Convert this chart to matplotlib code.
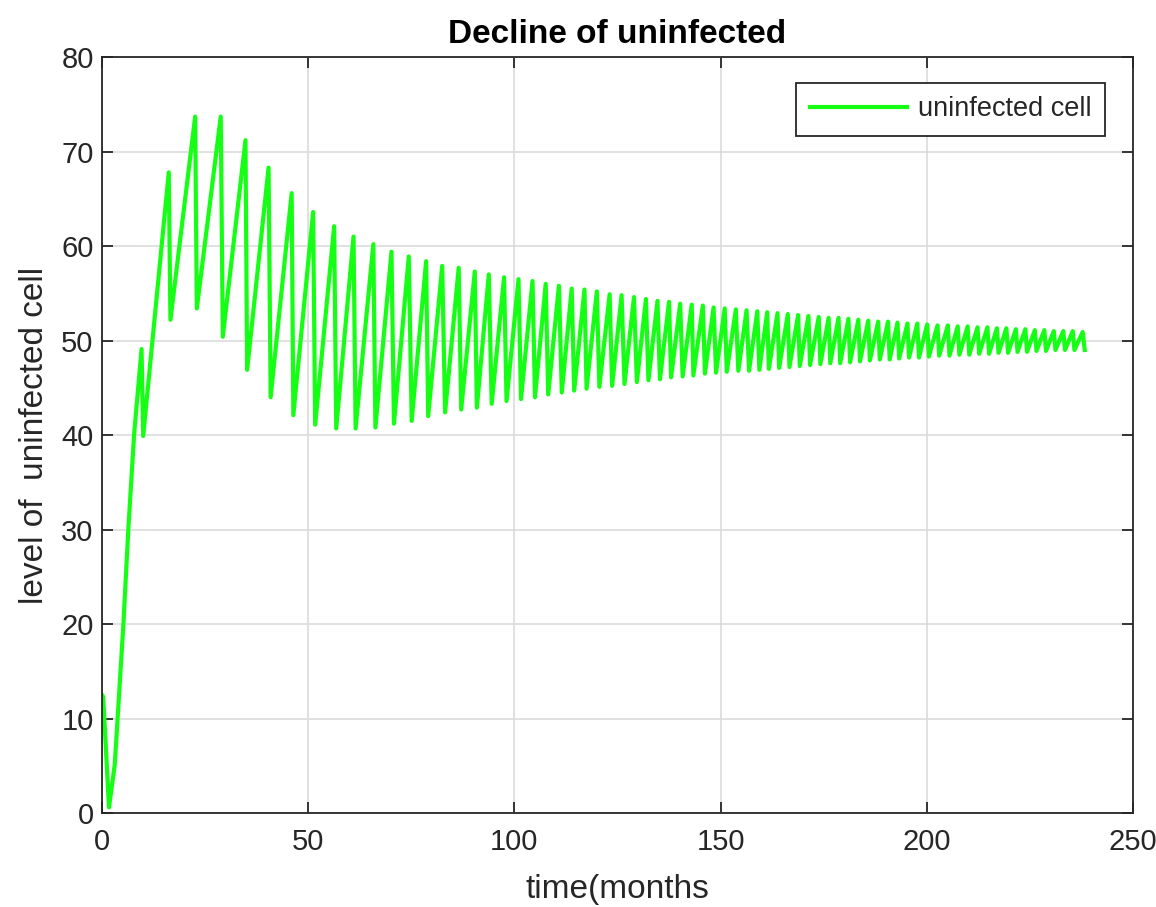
import numpy as np
import matplotlib.pyplot as plt

plt.rcParams['font.family'] = ['Liberation Sans', 'DejaVu Sans']

# start-up phase (t in months, level)
start_t = [0.0, 0.3, 1.7, 3.1, 5.2, 6.4, 7.8]
start_v = [12.5, 12.3, 0.6, 5.1, 20.0, 30.1, 40.1]

# tops of the saw teeth
peak_t = [9.6, 16.2, 22.6, 28.8, 34.8, 40.4, 46.0, 51.2, 56.3, 61.0,
          65.8, 70.2, 74.4, 78.6, 82.5, 86.5, 90.4, 93.8, 97.5, 101.0,
          104.4, 107.6, 110.8, 113.9, 117.0, 120.0, 123.1, 126.0, 129.0, 131.9,
          134.7, 137.5, 140.2, 143.0, 145.7, 148.3, 151.0, 153.7, 156.3, 158.9,
          161.3, 163.8, 166.3, 168.8, 171.3, 173.8, 176.2, 178.6, 181.0, 183.4,
          185.8, 188.2, 190.6, 192.9, 195.3, 197.7, 200.1, 202.6, 205.1, 207.5,
          209.9, 212.3, 214.7, 217.0, 219.3, 221.6, 223.9, 226.2, 228.5, 230.8,
          233.1, 235.4, 237.8]
peak_v = [49.1, 67.8, 73.7, 73.7, 71.2, 68.3, 65.6, 63.6, 62.1, 61.0,
          60.2, 59.4, 58.9, 58.4, 57.9, 57.7, 57.3, 57.0, 56.7, 56.5,
          56.3, 56.0, 55.8, 55.5, 55.4, 55.2, 54.9, 54.8, 54.6, 54.4,
          54.2, 54.1, 53.9, 53.8, 53.7, 53.5, 53.4, 53.3, 53.2, 53.1,
          53.0, 52.9, 52.8, 52.7, 52.6, 52.5, 52.4, 52.4, 52.3, 52.2,
          52.1, 52.0, 52.0, 51.9, 51.8, 51.8, 51.7, 51.6, 51.6, 51.5,
          51.5, 51.4, 51.4, 51.3, 51.3, 51.2, 51.2, 51.1, 51.1, 51.0,
          51.0, 51.0, 50.9]

# bottoms of the saw teeth
trough_t = [10.0, 16.6, 23.0, 29.3, 35.2, 40.9, 46.4, 51.7, 56.8, 61.5,
            66.3, 70.8, 75.1, 79.1, 83.2, 87.1, 90.9, 94.5, 98.1, 101.6,
            105.0, 108.2, 111.5, 114.5, 117.5, 120.6, 123.7, 126.7, 129.7, 132.5,
            135.3, 138.0, 140.8, 143.4, 146.2, 148.9, 151.5, 154.3, 156.9, 159.4,
            161.7, 164.2, 166.7, 169.2, 171.7, 174.2, 176.6, 179.0, 181.4, 183.8,
            186.2, 188.6, 191.0, 193.3, 195.7, 198.1, 200.5, 203.0, 205.5, 207.9,
            210.3, 212.7, 215.1, 217.4, 219.7, 222.0, 224.3, 226.6, 228.9, 231.2,
            233.5, 235.8, 238.3]
trough_v = [39.9, 52.2, 53.4, 50.4, 46.9, 44.0, 42.1, 41.1, 40.7, 40.7,
            40.8, 41.2, 41.5, 42.0, 42.4, 42.7, 42.9, 43.3, 43.6, 43.8,
            44.0, 44.3, 44.5, 44.7, 44.9, 45.1, 45.2, 45.4, 45.6, 45.8,
            45.9, 46.1, 46.2, 46.3, 46.5, 46.6, 46.7, 46.8, 46.8, 46.9,
            47.0, 47.1, 47.2, 47.3, 47.4, 47.5, 47.6, 47.6, 47.7, 47.8,
            47.9, 48.0, 48.0, 48.1, 48.2, 48.2, 48.3, 48.4, 48.4, 48.5,
            48.5, 48.6, 48.6, 48.7, 48.7, 48.8, 48.8, 48.9, 48.9, 49.0,
            49.0, 49.0, 49.0]

# stitch start-up + alternating peaks/troughs into one line
t = list(start_t)
v = list(start_v)
for pt, pv, tt, tv in zip(peak_t, peak_v, trough_t, trough_v):
    t += [pt, tt]
    v += [pv, tv]

fig = plt.figure(figsize=(11.56, 9.07), dpi=100)
ax = fig.add_axes([0.0882, 0.1036, 0.8919, 0.8335])

ax.plot(t, v, color='#14ff14', linewidth=3.0, solid_joinstyle='round',
        label='uninfected cell')

ax.set_xlim(0, 250)
ax.set_ylim(0, 80)
ax.set_xticks(np.arange(0, 251, 50))
ax.set_yticks(np.arange(0, 81, 10))
ax.grid(True, color='#dcdcdc', linewidth=1.2)
ax.set_axisbelow(True)

txt = '#262626'
for s in ax.spines.values():
    s.set_color('#262626')
    s.set_linewidth(1.3)
ax.tick_params(direction='in', length=8, width=1.3, top=True, right=True,
               colors=txt, labelsize=21)
ax.tick_params(axis='x', pad=11)
ax.tick_params(axis='y', pad=6)

ax.set_xlabel('time(months', fontsize=24, color=txt, labelpad=13)
ax.set_ylabel('level of  uninfected cell', fontsize=24, color=txt, labelpad=8)
ax.set_title('Decline of uninfected', fontsize=24, fontweight='bold', pad=10)

leg = ax.legend(loc='upper right', bbox_to_anchor=(0.973, 0.966),
                borderaxespad=0, fontsize=19.5, handlelength=3.6,
                handletextpad=0.4, fancybox=False, framealpha=1,
                edgecolor='#262626', borderpad=0.5)
leg.get_frame().set_linewidth(1.3)
for text in leg.get_texts():
    text.set_color(txt)

fig.savefig('out.png', dpi=100)
